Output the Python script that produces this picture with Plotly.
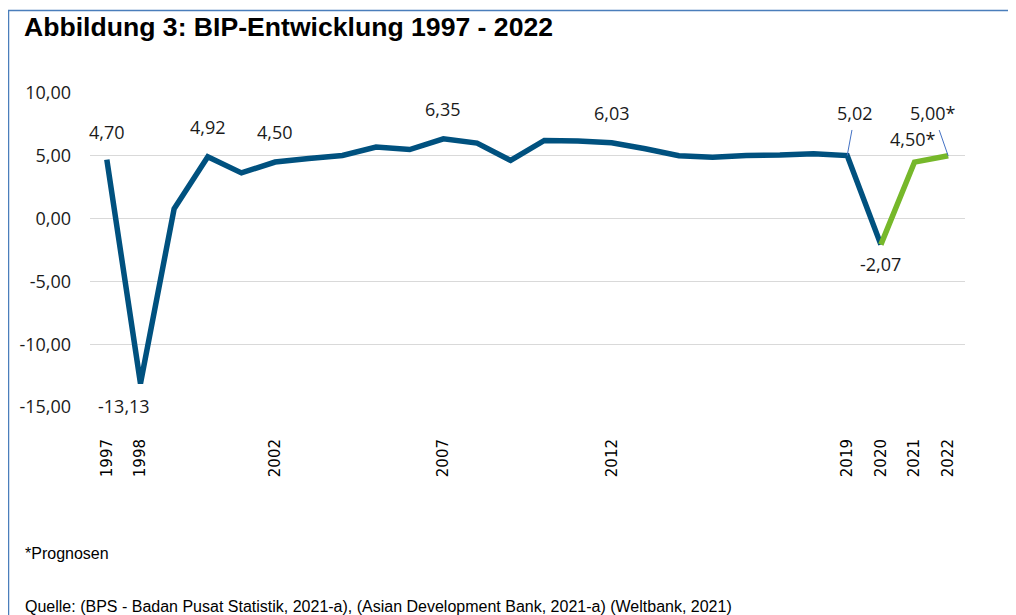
import plotly.graph_objects as go

years = list(range(1997, 2023))
gdp = [4.70, -13.13, 0.79, 4.92, 3.64, 4.50, 4.78, 5.03, 5.69, 5.50, 6.35, 6.01, 4.63,
       6.22, 6.17, 6.03, 5.56, 5.01, 4.88, 5.03, 5.07, 5.17, 5.02, -2.07, 4.50, 5.00]
forecast_start = 2020
tick_years = [1997, 1998, 2002, 2007, 2012, 2019, 2020, 2021, 2022]
y_ticks = [10, 5, 0, -5, -10, -15]
labels_above = {1997: "4,70", 2000: "4,92", 2002: "4,50", 2007: "6,35", 2012: "6,03", 2021: "4,50*"}
labels_below = {1998: "-13,13", 2020: "-2,07"}
labels_leader = {2019: "5,02", 2022: "5,00*"}

BLUE = "#00517F"
GREEN = "#76B82A"
LBL_FONT = dict(family="Open Sans, sans-serif", size=18, color="#1a1a1a")

# page body has an 8px margin; work in page pixels and offset
OFF = 8
L, R, T, B = 90, 965, 93, 407
W, H = 1016, 615

def px_x(p):
    return (p - L) / (R - L)

def px_y(p):
    return (B - p) / (B - T)

idx = years.index(forecast_start)
fig = go.Figure()
fig.add_trace(go.Scatter(x=years[:idx + 1], y=gdp[:idx + 1], mode="lines",
                         line=dict(color=BLUE, width=5.5), hoverinfo="skip"))
fig.add_trace(go.Scatter(x=years[idx:], y=gdp[idx:], mode="lines",
                         line=dict(color=GREEN, width=5.5), hoverinfo="skip"))

ann = []
shift_above = {1997: 28, 2000: 30, 2002: 30, 2007: 30, 2012: 30, 2021: 23}
xshift_above = {2021: -2}
for yr, t in labels_above.items():
    ann.append(dict(x=yr, y=gdp[years.index(yr)], text=t, showarrow=False,
                    yshift=shift_above[yr], xshift=xshift_above.get(yr, 0), font=LBL_FONT))
shift_below = {1998: (-16, -22), 2020: (0, -19)}
for yr, t in labels_below.items():
    xs, ys = shift_below[yr]
    ann.append(dict(x=yr, y=gdp[years.index(yr)], text=t, showarrow=False,
                    yshift=ys, xshift=xs, font=LBL_FONT))
leader_off = {2019: (8, -43), 2022: (-15, -43)}
for yr, t in labels_leader.items():
    ax, ay = leader_off[yr]
    ann.append(dict(x=yr, y=gdp[years.index(yr)], text=t, showarrow=True, arrowhead=0,
                    arrowwidth=1, arrowcolor="#4472C4", ax=ax, ay=ay, startstandoff=4,
                    font=LBL_FONT))

ann.append(dict(xref="paper", yref="paper", x=px_x(22), y=px_y(27), xanchor="left",
                yanchor="middle", text="<b>Abbildung 3: BIP-Entwicklung 1997 - 2022</b>",
                showarrow=False, font=dict(family="Liberation Sans, Arial", size=26.6, color="#000")))
ann.append(dict(xref="paper", yref="paper", x=px_x(23), y=px_y(553), xanchor="left",
                yanchor="middle", text="*Prognosen", showarrow=False,
                font=dict(family="Liberation Sans, Arial", size=16, color="#000")))
ann.append(dict(xref="paper", yref="paper", x=px_x(23), y=px_y(606), xanchor="left",
                yanchor="middle",
                text="Quelle: (BPS - Badan Pusat Statistik, 2021-a), (Asian Development Bank, 2021-a) (Weltbank, 2021)",
                showarrow=False, font=dict(family="Liberation Sans, Arial", size=16, color="#000")))

fig.update_layout(
    width=W - OFF, height=H - OFF,
    margin=dict(l=L - OFF, r=W - R, t=T - OFF, b=H - B),
    paper_bgcolor="white", plot_bgcolor="white",
    showlegend=False,
    annotations=ann,
    shapes=[dict(type="rect", xref="paper", yref="paper",
                 x0=px_x(8.5), x1=px_x(1013), y0=px_y(640), y1=px_y(10.5),
                 line=dict(color="#4A7EBB", width=1.5), layer="below")],
)
fig.update_xaxes(range=[1996.5, 2022.5], tickvals=tick_years, ticktext=[str(y) for y in tick_years],
                 tickangle=-90, showgrid=False, zeroline=False, showline=False,
                 tickfont=dict(family="DejaVu Sans, sans-serif", size=15, color="#000"),
                 ticklabelstandoff=28)
fig.update_yaxes(range=[-15, 10], tickvals=y_ticks,
                 ticktext=[f"{v:.2f}".replace(".", ",") for v in y_ticks],
                 showgrid=True, gridcolor="#D9D9D9", gridwidth=1.2, zeroline=False, showline=False,
                 tickfont=dict(family="Open Sans, sans-serif", size=18, color="#1a1a1a"),
                 ticklabelstandoff=18)

fig.write_html("out.html")
